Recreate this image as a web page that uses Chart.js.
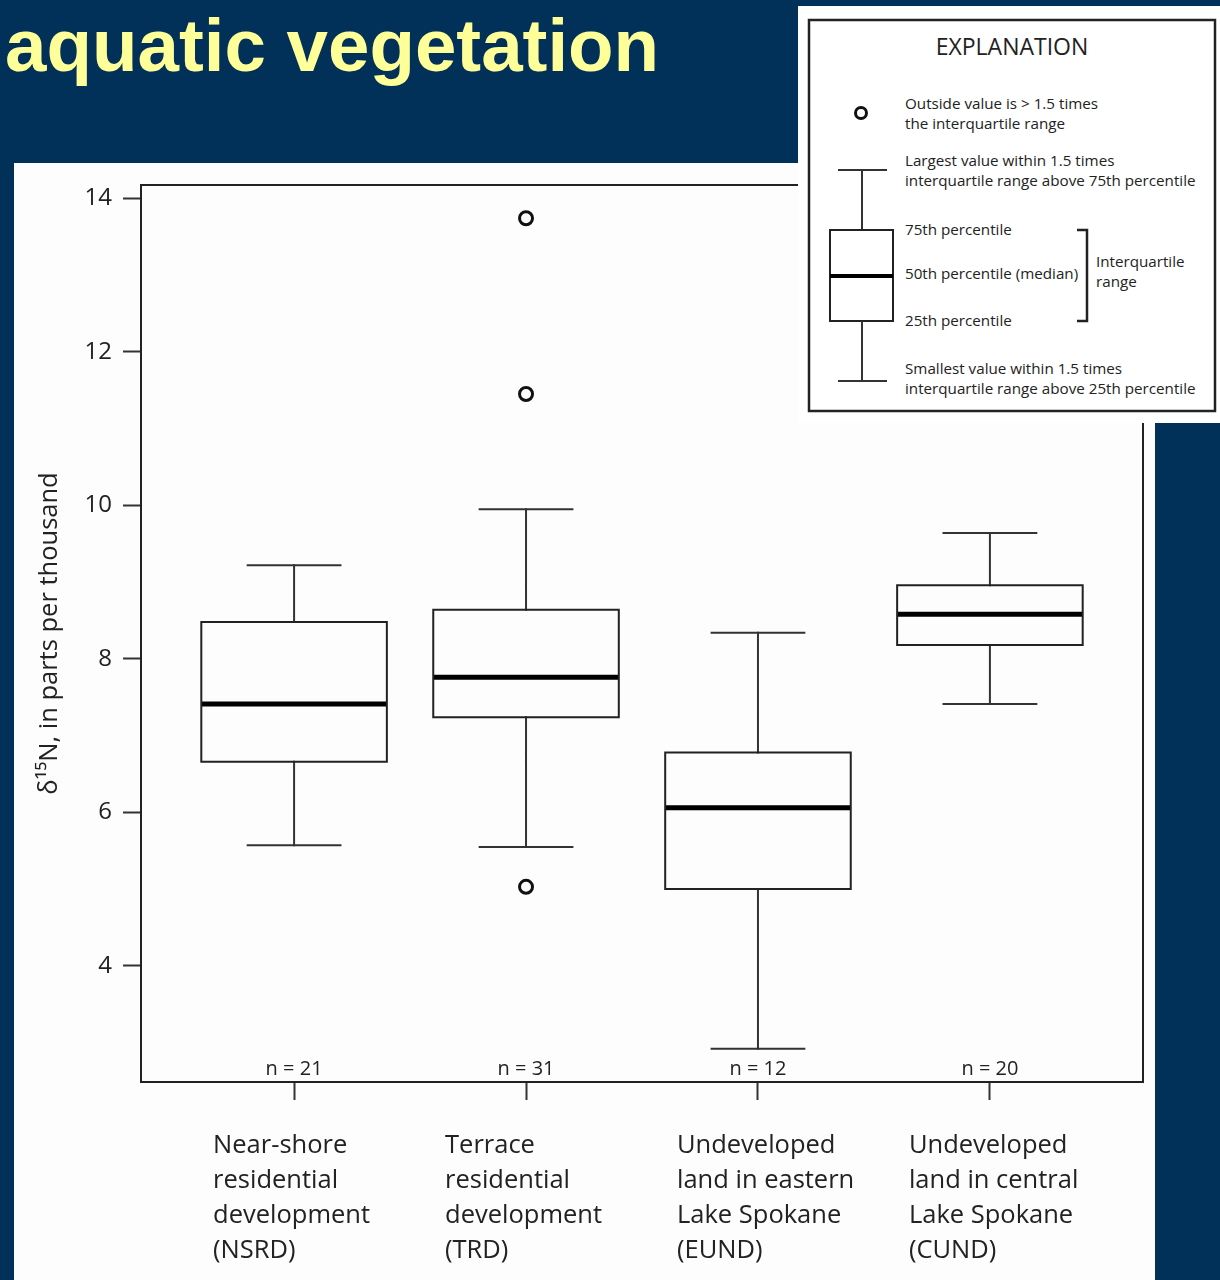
<!DOCTYPE html>
<html>
<head>
<meta charset="utf-8">
<script src="https://cdn.jsdelivr.net/npm/chart.js@4.4.1/dist/chart.umd.min.js"></script>
<style>
  html, body { margin: 0; padding: 0; }
  body { width: 1220px; height: 1280px; background: #013058; position: relative; overflow: hidden; }
  #title { position: absolute; left: 0; top: 0; }
  #panel { position: absolute; left: 14px; top: 163px; width: 1141px; height: 1117px; background: #fdfdfd; }
  #chartBox { position: absolute; left: 14px; top: 163px; width: 1141px; height: 1117px; }
  #legend { position: absolute; left: 798px; top: 6px; width: 422px; height: 417px; background: #ffffff; }
  svg text { font-family: "Open Sans", sans-serif; fill: #222; }
  .lt { font-size: 15.2px; }
</style>
</head>
<body>
<svg id="title" width="800" height="160">
  <text x="5" y="71" style="font-family:'Liberation Sans', Arial, sans-serif; font-weight:bold; font-size:74.5px; fill:#FFFF99;">aquatic vegetation</text>
</svg>
<div id="panel"></div>
<div id="chartBox"><canvas id="c"></canvas></div>
<div id="legend">
  <svg width="422" height="417">
    <rect x="11" y="14" width="406" height="391" fill="#fff" stroke="#222" stroke-width="2.5"/>
    <text x="214" y="49" text-anchor="middle" style="font-size:23px">EXPLANATION</text>
    <circle cx="63" cy="107" r="5.5" fill="#fff" stroke="#111" stroke-width="3"/>
    <text class="lt" x="107" y="103">Outside value is &gt; 1.5 times</text>
    <text class="lt" x="107" y="123">the interquartile range</text>
    <text class="lt" x="107" y="160">Largest value within 1.5 times</text>
    <text class="lt" x="107" y="180">interquartile range above 75th percentile</text>
    <line x1="40" y1="164" x2="89" y2="164" stroke="#333" stroke-width="2"/>
    <line x1="64" y1="164" x2="64" y2="224" stroke="#333" stroke-width="2"/>
    <rect x="32" y="224" width="63" height="91" fill="none" stroke="#222" stroke-width="2"/>
    <line x1="32" y1="270" x2="95" y2="270" stroke="#000" stroke-width="4"/>
    <line x1="64" y1="315" x2="64" y2="375" stroke="#333" stroke-width="2"/>
    <line x1="40" y1="375" x2="89" y2="375" stroke="#333" stroke-width="2"/>
    <text class="lt" x="107" y="229">75th percentile</text>
    <text class="lt" x="107" y="273">50th percentile (median)</text>
    <text class="lt" x="107" y="320">25th percentile</text>
    <polyline points="279,224 289,224 289,315 279,315" fill="none" stroke="#222" stroke-width="2.5"/>
    <text class="lt" x="298" y="261">Interquartile</text>
    <text class="lt" x="298" y="281">range</text>
    <text class="lt" x="107" y="368">Smallest value within 1.5 times</text>
    <text class="lt" x="107" y="388">interquartile range above 25th percentile</text>
  </svg>
</div>
<script>
// ---- data ----
const categories = ['NSRD', 'TRD', 'EUND', 'CUND'];
const categoryLabels = [
  ['Near-shore', 'residential', 'development', '(NSRD)'],
  ['Terrace', 'residential', 'development', '(TRD)'],
  ['Undeveloped', 'land in eastern', 'Lake Spokane', '(EUND)'],
  ['Undeveloped', 'land in central', 'Lake Spokane', '(CUND)']
];
const whiskerHigh = [9.22, 9.95, 8.34, 9.64];
const quartile3   = [8.48, 8.64, 6.78, 8.96];
const medians     = [7.41, 7.76, 6.06, 8.58];
const quartile1   = [6.66, 7.24, 5.00, 8.18];
const whiskerLow  = [5.57, 5.55, 2.92, 7.41];
const outliers    = [[], [13.74, 11.45, 5.03], [], []];
const sampleSizes = [21, 31, 12, 20];
const yTickValues = [4, 6, 8, 10, 12, 14];
const yTitle = 'δ¹⁵N, in parts per thousand';

// ---- build datasets ----
const HALF_BOX = 0.4, HALF_STAPLE = 0.2;
const boxPts = [], medPts = [], whiskPts = [], staplePts = [], outPts = [];
categories.forEach((c, i) => {
  const x = i + 1;
  boxPts.push({x: x - HALF_BOX, y: quartile1[i]}, {x: x + HALF_BOX, y: quartile1[i]},
              {x: x + HALF_BOX, y: quartile3[i]}, {x: x - HALF_BOX, y: quartile3[i]},
              {x: x - HALF_BOX, y: quartile1[i]}, {x: x, y: null});
  medPts.push({x: x - HALF_BOX, y: medians[i]}, {x: x + HALF_BOX, y: medians[i]}, {x: x, y: null});
  whiskPts.push({x: x, y: quartile3[i]}, {x: x, y: whiskerHigh[i]}, {x: x, y: null},
                {x: x, y: quartile1[i]}, {x: x, y: whiskerLow[i]}, {x: x, y: null});
  staplePts.push({x: x - HALF_STAPLE, y: whiskerHigh[i]}, {x: x + HALF_STAPLE, y: whiskerHigh[i]}, {x: x, y: null},
                 {x: x - HALF_STAPLE, y: whiskerLow[i]}, {x: x + HALF_STAPLE, y: whiskerLow[i]}, {x: x, y: null});
  outliers[i].forEach(v => outPts.push({x: x, y: v}));
});

const allVals = whiskerHigh.concat(whiskerLow, ...outliers);
const dMin = Math.min(...allVals), dMax = Math.max(...allVals);
const yMin = dMin - 0.04 * (dMax - dMin), yMax = dMax + 0.04 * (dMax - dMin);
const xMin = 0.5 - 0.04 * categories.length, xMax = categories.length + 0.5 + 0.04 * categories.length;

const lineDs = (data, w, col) => ({
  data, showLine: true, borderColor: col, borderWidth: w, pointRadius: 0, pointHoverRadius: 0,
  fill: false, spanGaps: false, borderCapStyle: 'square', borderJoinStyle: 'miter', tension: 0
});

const framePlugin = {
  id: 'frame',
  afterDatasetsDraw(chart) {
    const {ctx, chartArea: a, scales} = chart;
    ctx.save();
    ctx.strokeStyle = '#222';
    ctx.lineWidth = 2;
    ctx.strokeRect(a.left, a.top, a.right - a.left, a.bottom - a.top);
    ctx.fillStyle = '#222';
    ctx.font = '20px "Open Sans"';
    ctx.textAlign = 'center';
    ctx.textBaseline = 'alphabetic';
    sampleSizes.forEach((n, i) => {
      ctx.fillText('n = ' + n, scales.x.getPixelForValue(i + 1), a.bottom - 7);
    });
    ctx.restore();
  }
};

new Chart(document.getElementById('c'), {
  type: 'scatter',
  data: {
    datasets: [
      lineDs(boxPts, 2, '#222'),
      lineDs(whiskPts, 2, '#333'),
      lineDs(staplePts, 2, '#333'),
      Object.assign(lineDs(medPts, 5, '#000'), {borderCapStyle: 'butt'}),
      { data: outPts, pointRadius: 6.5, pointHoverRadius: 6.5, pointBorderWidth: 3,
        pointBorderColor: '#111', pointBackgroundColor: '#fff', showLine: false }
    ]
  },
  plugins: [framePlugin],
  options: {
    responsive: true,
    maintainAspectRatio: false,
    animation: false,
    events: [],
    layout: { padding: { top: 22, right: 12, left: 0, bottom: 0 } },
    plugins: { legend: { display: false }, tooltip: { enabled: false } },
    scales: {
      x: {
        type: 'linear', min: xMin, max: xMax, position: 'bottom',
        border: { display: false },
        grid: { display: true, drawOnChartArea: false, drawTicks: true, tickLength: 18, tickWidth: 2, tickColor: '#333' },
        afterBuildTicks: s => { s.ticks = categories.map((c, i) => ({ value: i + 1 })); },
        ticks: {
          includeBounds: false, autoSkip: false, maxRotation: 0, minRotation: 0,
          align: 'start', labelOffset: -81, padding: 28,
          color: '#222', font: { family: 'Open Sans', size: 25.5, lineHeight: 1.37 },
          callback: (v) => categoryLabels[Math.round(v) - 1] || ''
        },
        afterFit: s => { s.height = 198; s.paddingLeft = 0; s.paddingRight = 0; }
      },
      y: {
        type: 'linear', min: yMin, max: yMax, position: 'left',
        border: { display: false },
        grid: { display: true, drawOnChartArea: false, drawTicks: true, tickLength: 18, tickWidth: 2, tickColor: '#333' },
        afterBuildTicks: s => { s.ticks = yTickValues.map(v => ({ value: v })); },
        ticks: {
          includeBounds: false, padding: 11, color: '#222',
          font: { family: 'Open Sans', size: 24 }
        },
        title: {
          display: true, text: yTitle, color: '#222',
          font: { family: 'Open Sans', size: 25.5 }, padding: { top: 20, bottom: 0 }
        },
        afterFit: s => { s.width = 127; s.paddingTop = 0; s.paddingBottom = 0; }
      }
    }
  }
});
</script>
</body>
</html>
